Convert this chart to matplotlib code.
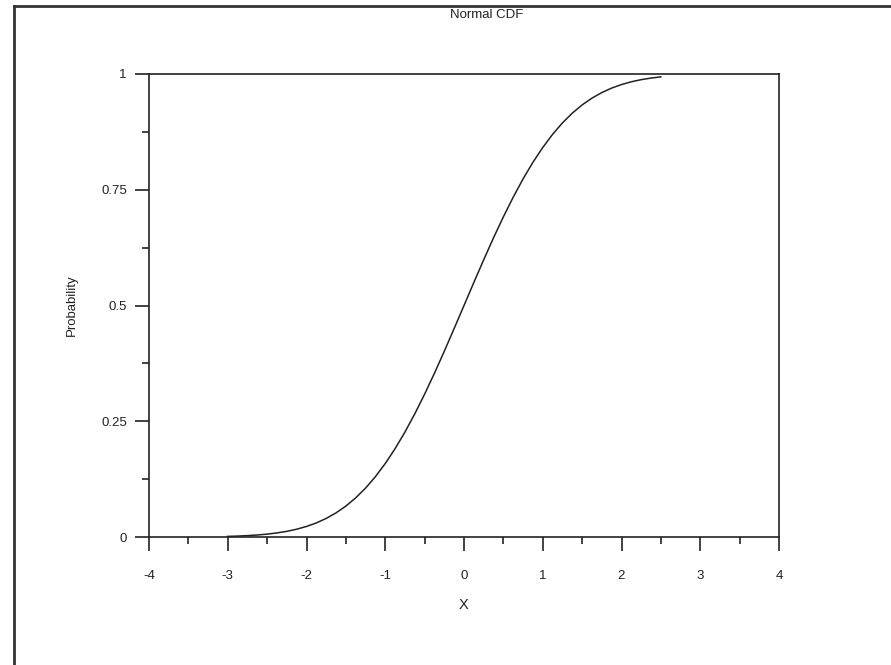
import numpy as np
import matplotlib.pyplot as plt
from matplotlib.lines import Line2D
from matplotlib.ticker import MultipleLocator

# values
x_vals = [-3.0, -2.875, -2.75, -2.625, -2.5, -2.375, -2.25, -2.125, -2.0,
          -1.875, -1.75, -1.625, -1.5, -1.375, -1.25, -1.125, -1.0,
          -0.875, -0.75, -0.625, -0.5, -0.375, -0.25, -0.125, 0.0,
          0.125, 0.25, 0.375, 0.5, 0.625, 0.75, 0.875, 1.0,
          1.125, 1.25, 1.375, 1.5, 1.625, 1.75, 1.875, 2.0,
          2.125, 2.25, 2.375, 2.5]
prob = [0.0013, 0.0020, 0.0030, 0.0043, 0.0062, 0.0088, 0.0122, 0.0168, 0.0228,
        0.0304, 0.0401, 0.0521, 0.0668, 0.0846, 0.1056, 0.1303, 0.1587,
        0.1908, 0.2266, 0.2660, 0.3085, 0.3538, 0.4013, 0.4503, 0.5000,
        0.5497, 0.5987, 0.6462, 0.6915, 0.7340, 0.7734, 0.8092, 0.8413,
        0.8697, 0.8944, 0.9154, 0.9332, 0.9479, 0.9599, 0.9696, 0.9772,
        0.9832, 0.9878, 0.9912, 0.9938]

xticks = [-4, -3, -2, -1, 0, 1, 2, 3, 4]
yticks = [0, 0.25, 0.5, 0.75, 1]
ytick_labels = ['0', '0.25', '0.5', '0.75', '1']

plt.rcParams['font.family'] = ['Liberation Sans', 'DejaVu Sans']
plt.rcParams['axes.unicode_minus'] = False
W, H = 891, 665
fig = plt.figure(figsize=(W / 100, H / 100), dpi=100)
ax = fig.add_axes([149 / W, 1 - 537 / H, (779 - 149) / W, (537 - 74) / H])

ink = '#222222'
ax.plot(x_vals, prob, color=ink, lw=1.1)
ax.set_xlim(-4, 4)
ax.set_ylim(0, 1)
ax.set_xticks(xticks)
ax.set_yticks(yticks)
ax.set_yticklabels(ytick_labels)
ax.xaxis.set_minor_locator(MultipleLocator(0.5))
ax.yaxis.set_minor_locator(MultipleLocator(0.125))
ax.tick_params(which='major', direction='out', length=10, width=1.2, color=ink,
               labelsize=9.5, labelcolor=ink, pad=6)
ax.tick_params(axis='x', which='major', pad=14)
ax.tick_params(which='minor', direction='out', length=5, width=1.2, color=ink)
for s in ax.spines.values():
    s.set_linewidth(1.2)
    s.set_color(ink)

ax.set_xlabel('X', fontsize=10.5, color=ink, labelpad=11)
ax.set_ylabel('Probability', fontsize=9.5, color=ink, labelpad=17)

fig.text(487 / W, 1 - 15 / H, 'Normal CDF', ha='center', va='center',
         fontsize=9.5, color=ink)

# outer frame (left and top edges visible)
fig.add_artist(Line2D([14 / W, 14 / W], [0, 1 - 6 / H], transform=fig.transFigure,
                      color='#333333', lw=2))
fig.add_artist(Line2D([14 / W, 1], [1 - 6 / H, 1 - 6 / H], transform=fig.transFigure,
                      color='#333333', lw=2))

fig.savefig('out.png', dpi=100)
